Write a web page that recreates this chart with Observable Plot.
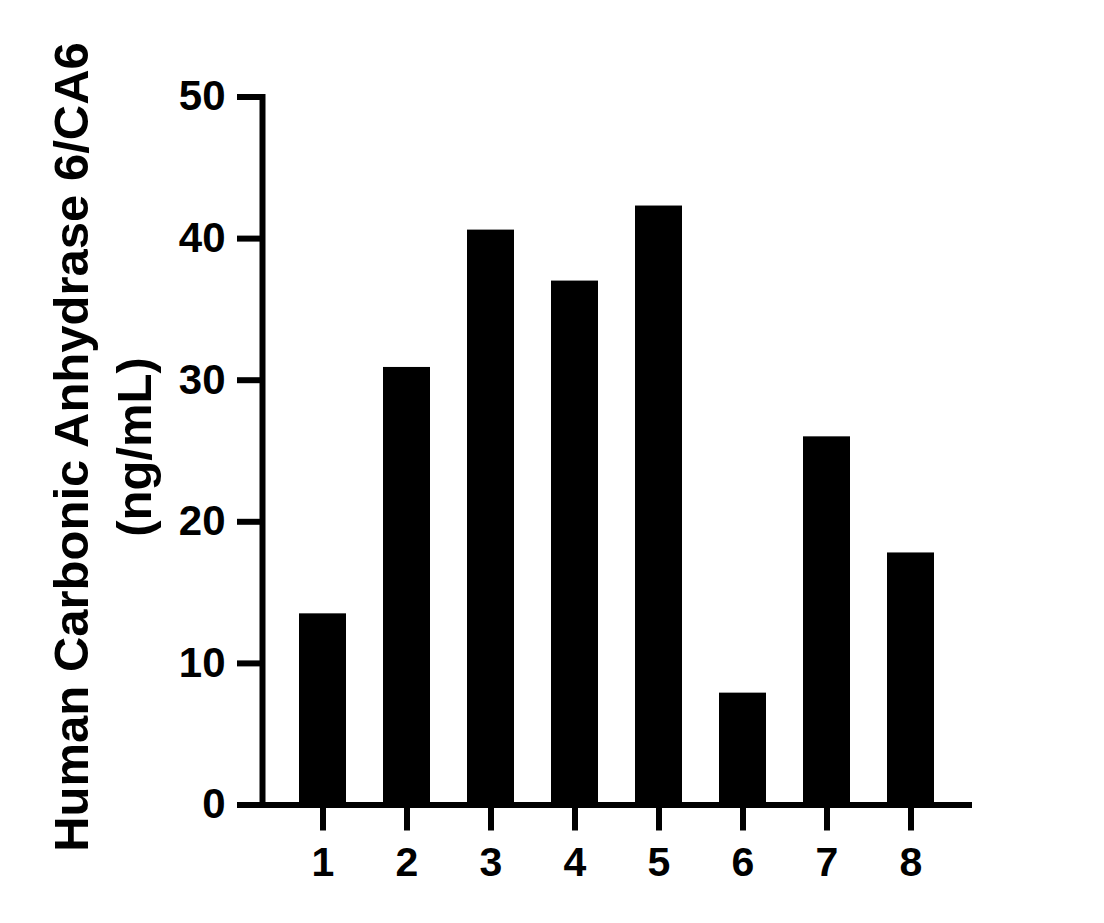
<!DOCTYPE html>
<html>
<head>
<meta charset="utf-8">
<script src="https://cdn.jsdelivr.net/npm/d3@7"></script>
<script src="https://cdn.jsdelivr.net/npm/@observablehq/plot@0.6"></script>
<style>
  html, body { margin: 0; padding: 0; background: #fff; }
  #chart svg { display: block; }
</style>
</head>
<body>
<div id="chart"></div>
<script>
const samples = ["1", "2", "3", "4", "5", "6", "7", "8"];
const values = [13.5, 30.9, 40.6, 37.0, 42.3, 7.9, 26.0, 17.8];
const yTicks = [0, 10, 20, 30, 40, 50];
const yTitle = "Human Carbonic Anhydrase 6/CA6\n(ng/mL)";

const data = samples.map((s, i) => ({sample: s, value: values[i]}));

const chart = Plot.plot({
  width: 1104,
  height: 923,
  marginTop: 96.5,
  marginBottom: 118.5,
  marginLeft: 262,
  marginRight: 132,
  style: {fontFamily: "'Liberation Sans', Arial, sans-serif", background: "#fff", color: "#000"},
  x: {domain: samples, padding: 0.44, label: null},
  y: {domain: [0, 50], label: null},
  marks: [
    Plot.barY(data, {x: "sample", y: "value", fill: "#000"}),
    Plot.axisY({ticks: yTicks, tickSize: 25, tickPadding: 12, strokeWidth: 6,
      fontSize: 42, fontWeight: "bold", label: null}),
    Plot.axisX({tickSize: 26, tickPadding: 16, strokeWidth: 6,
      fontSize: 41, fontWeight: "bold", label: null}),
    Plot.frame({anchor: "left", strokeWidth: 6, strokeLinecap: "square"}),
    Plot.ruleY([0], {strokeWidth: 6}),
    Plot.text([yTitle], {frameAnchor: "left", textAnchor: "middle", rotate: -90, dx: -163, dy: -4,
      fontSize: 49, fontWeight: "bold", lineHeight: 1.27, fill: "#000"})
  ]
});
document.getElementById("chart").append(chart);
</script>
</body>
</html>
